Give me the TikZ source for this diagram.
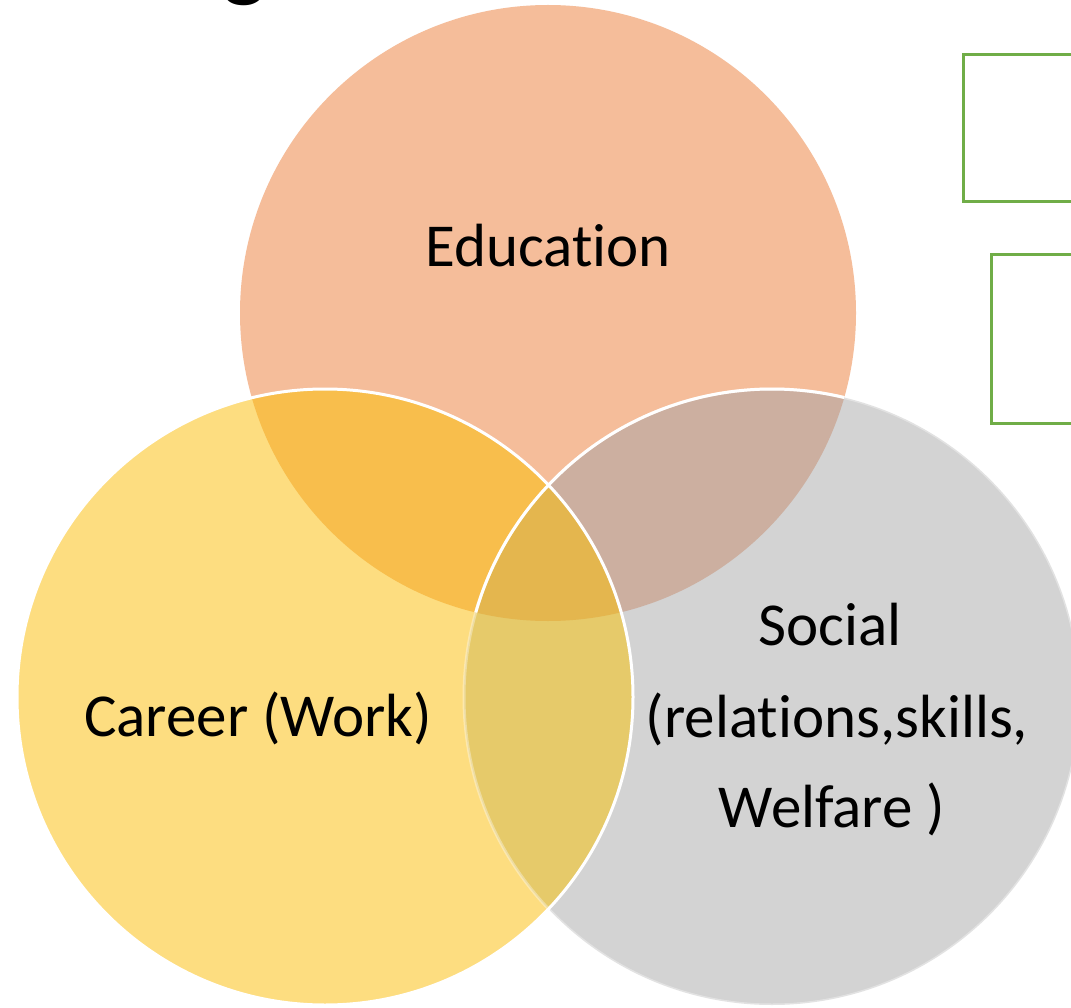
\documentclass[tikz,border=0pt]{standalone}
\usepackage{fontspec}
\setmainfont{Carlito}[RawFeature={-liga;-clig;-calt;-dlig}]
\definecolor{cEdu}{HTML}{F5BD9A}
\definecolor{cCar}{HTML}{FDDD80}
\definecolor{cSoc}{HTML}{D3D3D3}
\definecolor{cEC}{HTML}{F8BE4C}
\definecolor{cES}{HTML}{CCAFA0}
\definecolor{cCS}{HTML}{E6CA6A}
\definecolor{cECS}{HTML}{E4B64E}
\definecolor{cGreen}{HTML}{70AD47}
\tikzset{
  lbl/.style={font=\fontsize{61}{72}\selectfont, text=black, inner sep=0pt, anchor=base},
  rim/.style={draw=white, line width=3pt},
  greenbox/.style={draw=cGreen, line width=3pt, fill=white}
}
\begin{document}
\begin{tikzpicture}[x=1pt,y=-1pt]
\useasboundingbox (0,0) rectangle (1071,1008);
\fill[white] (0,0) rectangle (1071,1008);
% title glyph (cut off at top)
\node[font=\fontsize{90}{100}\selectfont\bfseries, inner sep=0pt, anchor=base] (ttl) at (245,-9) {g};
% green boxes (cut off at right)
\draw[greenbox] (963,55) rectangle (1110,202);
\draw[greenbox] (991,255) rectangle (1110,423);
% circles
\coordinate (E) at (548,313);
\coordinate (C) at (325,697);
\coordinate (S) at (772,697);
\fill[cEdu] (E) circle[radius=308pt];
\fill[cCar] (C) circle[radius=308pt];
\fill[cSoc] (S) circle[radius=308pt];
\begin{scope}
  \clip (E) circle[radius=308pt];
  \fill[cEC] (C) circle[radius=308pt];
  \fill[cES] (S) circle[radius=308pt];
\end{scope}
\begin{scope}
  \clip (C) circle[radius=308pt];
  \fill[cCS] (S) circle[radius=308pt];
  \clip (E) circle[radius=308pt];
  \fill[cECS] (S) circle[radius=308pt];
\end{scope}
% outlines
\draw[rim, draw opacity=0.35] (S) circle[radius=308pt];
\begin{scope}
  \clip (E) circle[radius=308pt];
  \draw[rim] (S) circle[radius=308pt];
\end{scope}
\draw[rim] (C) circle[radius=308pt];
% labels
\node[lbl] (edu) at (548,267) {Education};
\node[lbl] (car) at (258,736) {Career (Work)};
\node[lbl] (soc1) at (830,645) {Social};
\node[lbl] (soc2) at (837,737) {(relations,skills,};
\node[lbl] (soc3) at (832,827) {Welfare )};
\end{tikzpicture}
\end{document}
